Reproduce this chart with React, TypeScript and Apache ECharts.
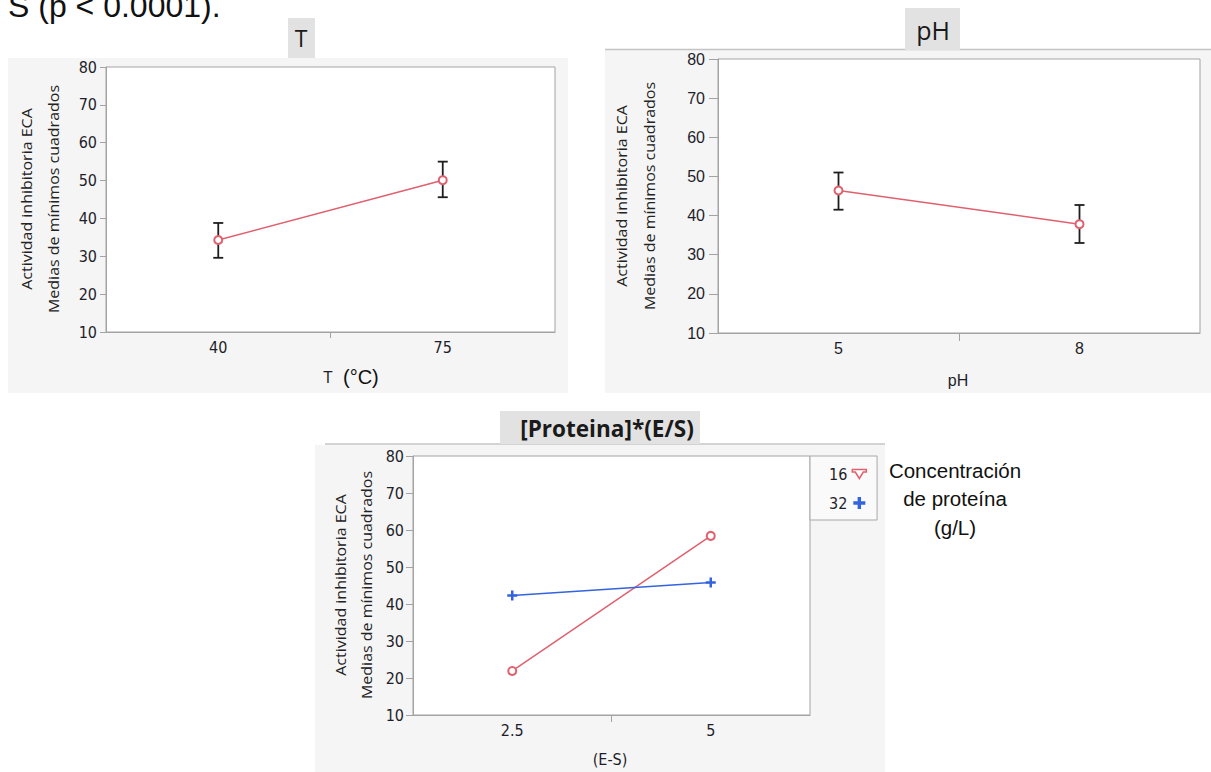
import React, { useEffect, useRef } from "react";
import * as echarts from "echarts";

// ---- data ----
const tCategories = ["40", "75"];
const tMeans = [34.3, 50.1];
const tLower = [29.6, 45.6];
const tUpper = [38.8, 55.0];

const phCategories = ["5", "8"];
const phMeans = [46.4, 37.8];
const phLower = [41.5, 33.0];
const phUpper = [51.0, 42.7];

const esCategories = ["2.5", "5"];
const protein16 = [21.9, 58.4];
const protein32 = [42.3, 45.8];
const legendNames = ["16", "32"];

const yTickMin = 10;
const yTickMax = 80;
const yTickStep = 10;

const RED = "#e0606e";
const BLUE = "#3463e0";
const FONT = '"Open Sans", "Noto Sans", sans-serif';
const NARROW = '"Liberation Sans Narrow", "DejaVu Sans Condensed", sans-serif';
const ARIAL = '"Liberation Sans", Arial, sans-serif';
const PLUS = "path://M3.75,0H6.25V3.75H10V6.25H6.25V10H3.75V6.25H0V3.75H3.75Z";
const PLUS_BIG = "path://M5,0H9V5H14V9H9V14H5V9H0V5H5Z";
const CUP = "path://M0,0H14V2.5H11L7,9L3,2.5H0Z";

const errData = (lo: number[], hi: number[]) => lo.map((l, i) => [i, l, hi[i]]);

const errorSeries = (idx: number, lo: number[], hi: number[]) => ({
  type: "custom",
  xAxisIndex: idx,
  yAxisIndex: idx,
  z: 2,
  data: errData(lo, hi),
  renderItem: (_p: any, api: any) => {
    const x = api.value(0);
    const a = api.coord([x, api.value(1)]);
    const b = api.coord([x, api.value(2)]);
    const w = 5;
    const st = { stroke: "#1e1e1e", lineWidth: 1.8 };
    return {
      type: "group",
      children: [
        { type: "line", shape: { x1: a[0], y1: a[1], x2: b[0], y2: b[1] }, style: st },
        { type: "line", shape: { x1: a[0] - w, y1: a[1], x2: a[0] + w, y2: a[1] }, style: st },
        { type: "line", shape: { x1: b[0] - w, y1: b[1], x2: b[0] + w, y2: b[1] }, style: st },
      ],
    };
  },
});

const AX = "#a3a3a3";

const xAxisCfg = (idx: number, cats: string[], font: string, size: number) => ({
  type: "category",
  gridIndex: idx,
  data: cats,
  boundaryGap: true,
  axisLine: { show: true, lineStyle: { color: AX } },
  axisTick: { show: false },
  axisLabel: { color: "#1e1e2a", fontSize: size, fontFamily: font, margin: 7 },
});

// companion axis that only draws the tick between the two levels
const midTickAxis = (idx: number, len: number) => ({
  type: "value",
  gridIndex: idx,
  position: "bottom",
  min: 0,
  max: 2,
  axisLine: { show: false },
  axisLabel: { show: false },
  splitLine: { show: false },
  axisTick: { show: true, customValues: [1], length: len, lineStyle: { color: AX } },
});

const yAxisCfg = (idx: number, font: string, size: number, tick: number, margin: number) => ({
  type: "value",
  gridIndex: idx,
  min: yTickMin,
  max: yTickMax,
  interval: yTickStep,
  axisLine: { show: true, lineStyle: { color: AX } },
  axisTick: { show: true, length: tick, lineStyle: { color: AX } },
  axisLabel: { color: "#1e1e2a", fontSize: size, fontFamily: font, margin },
  splitLine: { show: false },
});

const yTitle = (x1: number, x2: number, cy: number, sy: number) => [
  {
    type: "text",
    x: x1,
    y: cy,
    rotation: Math.PI / 2,
    scaleY: sy,
    style: { text: "Actividad inhibitoria ECA", fontSize: 16, fontFamily: FONT, fill: "#222", align: "center", verticalAlign: "middle" },
  },
  {
    type: "text",
    x: x2,
    y: cy,
    rotation: Math.PI / 2,
    scaleY: sy,
    style: { text: "Medias de mínimos cuadrados", fontSize: 16, fontFamily: FONT, fill: "#222", align: "center", verticalAlign: "middle" },
  },
];

export default function App() {
  const ref = useRef<HTMLDivElement>(null);
  useEffect(() => {
    if (!ref.current) return;
    const chart = echarts.init(ref.current, null, { renderer: "svg" });
    const option: any = {
      animation: false,
      backgroundColor: "#ffffff",
      grid: [
        { left: 106, top: 67, width: 449, height: 265, show: true, backgroundColor: "#ffffff", borderColor: AX, borderWidth: 1 },
        { left: 718, top: 59, width: 482, height: 274, show: true, backgroundColor: "#ffffff", borderColor: AX, borderWidth: 1 },
        { left: 413, top: 456, width: 397, height: 259, show: true, backgroundColor: "#ffffff", borderColor: AX, borderWidth: 1 },
      ],
      xAxis: [
        xAxisCfg(0, tCategories, NARROW, 16),
        xAxisCfg(1, phCategories, ARIAL, 16),
        xAxisCfg(2, esCategories, NARROW, 16),
        midTickAxis(0, 6),
        midTickAxis(1, 8),
        midTickAxis(2, 7),
      ],
      yAxis: [
        yAxisCfg(0, NARROW, 16, 6, 9),
        yAxisCfg(1, ARIAL, 16, 9, 13),
        yAxisCfg(2, NARROW, 16, 7, 9),
      ],
      legend: {
        data: [
          { name: legendNames[0], icon: CUP, itemStyle: { color: "#ffffff", borderColor: RED, borderWidth: 1.5 } },
          { name: legendNames[1], icon: PLUS_BIG, itemStyle: { color: BLUE } },
        ],
        orient: "vertical",
        left: 810,
        top: 456,
        align: "right",
        itemWidth: 14,
        itemHeight: 12,
        itemGap: 13,
        padding: [10, 10, 9, 19],
        backgroundColor: "#fafafa",
        borderColor: "#a8a8a8",
        borderWidth: 1,
        borderRadius: 0,
        textStyle: { fontSize: 16, fontFamily: NARROW, color: "#1e1e2a" },
      },
      graphic: [
        { type: "rect", z: -10, shape: { x: 8, y: 58, width: 560, height: 335 }, style: { fill: "#f5f5f5" } },
        { type: "rect", z: -10, shape: { x: 605, y: 50, width: 606, height: 343 }, style: { fill: "#f5f5f5" } },
        { type: "rect", z: -10, shape: { x: 315, y: 445, width: 570, height: 327 }, style: { fill: "#f5f5f5" } },
        { type: "line", z: -9, shape: { x1: 605, y1: 49.5, x2: 1211, y2: 49.5 }, style: { stroke: "#c4c4c4", lineWidth: 1.5 } },
        { type: "line", z: -9, shape: { x1: 325, y1: 444, x2: 885, y2: 444 }, style: { stroke: "#c4c4c4", lineWidth: 1.5 } },
        { type: "rect", z: -8, shape: { x: 288, y: 18, width: 27, height: 40 }, style: { fill: "#e2e2e2" } },
        { type: "rect", z: -8, shape: { x: 905, y: 8, width: 55, height: 42 }, style: { fill: "#e2e2e2" } },
        { type: "rect", z: -8, shape: { x: 500, y: 411, width: 200, height: 33 }, style: { fill: "#e2e2e2" } },
        { type: "text", x: 301, y: 38, style: { text: "T", fontSize: 23, fontFamily: FONT, fill: "#1a1a1a", align: "center", verticalAlign: "middle" } },
        { type: "text", x: 933, y: 30, style: { text: "pH", fontSize: 25, fontFamily: FONT, fill: "#1a1a1a", align: "center", verticalAlign: "middle" } },
        { type: "text", x: 607, y: 428, scaleX: 0.98, style: { text: "[Proteina]*(E/S)", fontSize: 23, fontWeight: "bold", fontFamily: FONT, fill: "#1a1a1a", align: "center", verticalAlign: "middle" } },
        { type: "text", x: 8, y: 6, style: { text: "S (p < 0.0001).", fontSize: 32, fontFamily: ARIAL, fill: "#111", align: "left", verticalAlign: "middle" } },
        ...yTitle(27, 54, 199, 0.85),
        ...yTitle(621, 649, 196, 0.95),
        ...yTitle(341, 367, 585, 0.85),
        { type: "text", x: 328, y: 377, style: { text: "T", fontSize: 16, fontFamily: NARROW, fill: "#1e1e2a", align: "center", verticalAlign: "middle" } },
        { type: "text", x: 343, y: 377, style: { text: "(°C)", fontSize: 20, fontFamily: ARIAL, fill: "#111", align: "left", verticalAlign: "middle" } },
        { type: "text", x: 958, y: 380, style: { text: "pH", fontSize: 16, fontFamily: ARIAL, fill: "#1e1e2a", align: "center", verticalAlign: "middle" } },
        { type: "text", x: 610, y: 759, style: { text: "(E-S)", fontSize: 16, fontFamily: NARROW, fill: "#1e1e2a", align: "center", verticalAlign: "middle" } },
        {
          type: "text",
          x: 955,
          y: 456,
          style: { text: "Concentración\nde proteína\n(g/L)", fontSize: 20.5, lineHeight: 28.5, fontFamily: ARIAL, fill: "#111", align: "center", verticalAlign: "top" },
        },
      ],
      series: [
        errorSeries(0, tLower, tUpper),
        {
          name: "T", type: "line", xAxisIndex: 0, yAxisIndex: 0, z: 3, data: tMeans,
          symbol: "emptyCircle", symbolSize: 8, itemStyle: { color: RED }, lineStyle: { color: RED, width: 1.5 },
        },
        errorSeries(1, phLower, phUpper),
        {
          name: "pH", type: "line", xAxisIndex: 1, yAxisIndex: 1, z: 3, data: phMeans,
          symbol: "emptyCircle", symbolSize: 8, itemStyle: { color: RED }, lineStyle: { color: RED, width: 1.5 },
        },
        {
          name: legendNames[0], type: "line", xAxisIndex: 2, yAxisIndex: 2, z: 3, data: protein16,
          symbol: "emptyCircle", symbolSize: 8, itemStyle: { color: RED }, lineStyle: { color: RED, width: 1.5 },
        },
        {
          name: legendNames[1], type: "line", xAxisIndex: 2, yAxisIndex: 2, z: 3, data: protein32,
          symbol: PLUS, symbolSize: 10, itemStyle: { color: BLUE }, lineStyle: { color: BLUE, width: 1.5 },
        },
      ],
    };
    chart.setOption(option);
    return () => chart.dispose();
  }, []);
  return <div ref={ref} style={{ position: "absolute", left: 0, top: 0, width: 1211, height: 772 }} />;
}
